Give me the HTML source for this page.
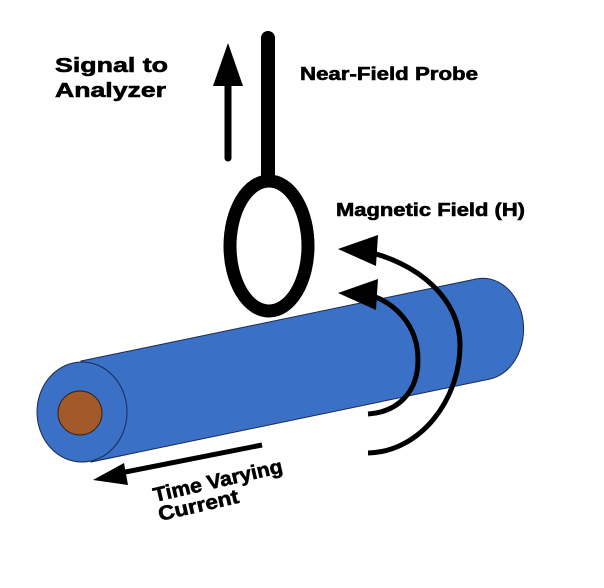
<!DOCTYPE html>
<html><head><meta charset="utf-8"><style>
html,body{margin:0;padding:0;background:#fff;}
svg{display:block;}
text{font-family:"Liberation Sans",Arial,sans-serif;font-weight:bold;fill:#000;stroke:#000;stroke-width:0.6;}
</style></head><body>
<svg width="604" height="588" viewBox="0 0 604 588" xmlns="http://www.w3.org/2000/svg">
<!-- cable body -->
<path d="M81,361 L476,279 A40,50 0 0 1 490,379 L91,462 Z" fill="#3a71c6" stroke="#1a2a50" stroke-width="1"/>
<ellipse cx="82" cy="412" rx="45" ry="50" fill="#3a71c6" stroke="#1a2a50" stroke-width="1"/>
<circle cx="80" cy="413" r="22" fill="#a25a2a" stroke="#3a2010" stroke-width="1"/>
<!-- probe -->
<line x1="268" y1="38" x2="268" y2="180" stroke="#000" stroke-width="14" stroke-linecap="round"/>
<ellipse cx="269" cy="246" rx="39" ry="65" fill="none" stroke="#000" stroke-width="13"/>
<!-- up arrow -->
<line x1="228" y1="158" x2="228" y2="75" stroke="#000" stroke-width="7" stroke-linecap="round"/>
<polygon points="228,43 243,86 213,86" fill="#000"/>
<!-- field arcs -->
<path d="M360,292 C395,300 418,325 418,360 C418,392 398,412 368,414" fill="none" stroke="#000" stroke-width="5"/>
<polygon points="338,293 378,279 376,310" fill="#000"/>
<path d="M360,250 C420,262 460,300 460,345 C460,400 420,452 368,453" fill="none" stroke="#000" stroke-width="5"/>
<polygon points="338,249 378,235 376,266" fill="#000"/>
<!-- current arrow -->
<line x1="262" y1="445" x2="110" y2="475" stroke="#000" stroke-width="5"/>
<polygon points="93,480 124,463 128,485" fill="#000"/>
<!-- labels -->
<text x="55" y="72" font-size="20" textLength="113" lengthAdjust="spacingAndGlyphs">Signal to</text>
<text x="55" y="97" font-size="20" textLength="111" lengthAdjust="spacingAndGlyphs">Analyzer</text>
<text x="300" y="80" font-size="18" textLength="178" lengthAdjust="spacingAndGlyphs">Near-Field Probe</text>
<text x="336" y="216" font-size="18" textLength="189" lengthAdjust="spacingAndGlyphs">Magnetic Field (H)</text>
<text x="0" y="0" font-size="20" textLength="132" lengthAdjust="spacingAndGlyphs" transform="translate(155,502) rotate(-13)">Time Varying</text>
<text x="0" y="0" font-size="20" textLength="82" lengthAdjust="spacingAndGlyphs" transform="translate(160,521) rotate(-13)">Current</text>
</svg>
</body></html>
